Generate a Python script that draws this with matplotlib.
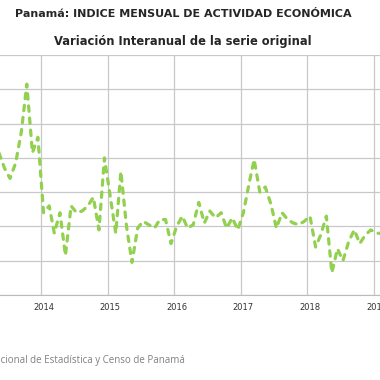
import pandas as pd
import matplotlib
matplotlib.use("Agg")
import matplotlib.pyplot as plt

# monthly year-on-year change (%), May 2013 .. Feb 2019
values = [8.3, 7.4, 6.8, 7.7, 9.5, 12.3, 8.3, 9.2,
          4.8, 5.2, 3.6, 4.8, 2.3, 5.2, 4.8, 4.9, 5.2, 5.7, 3.8, 8.0,
          5.8, 3.6, 7.2, 4.0, 1.9, 3.9, 4.3, 4.1, 3.9, 4.4, 4.4, 3.0,
          4.0, 4.6, 3.9, 4.1, 5.4, 4.2, 4.9, 4.5, 4.8, 3.9, 4.5, 3.8,
          4.8, 6.5, 7.9, 6.0, 6.3, 5.3, 3.9, 4.8, 4.4, 4.2, 4.1, 4.3,
          4.6, 2.8, 3.5, 4.6, 1.3, 2.7, 2.0, 3.1, 3.8, 3.0, 3.5, 3.8,
          3.6, 3.6]
years = ["2014", "2015", "2016", "2017", "2018", "2019"]

title = "Panamá: INDICE MENSUAL DE ACTIVIDAD ECONÓMICA"
subtitle = "Variación Interanual de la serie original"
source = "Fuente: Instituto Nacional de Estadística y Censo de Panamá"

# points sit in the middle of each month
dates = pd.date_range("2013-05-01", periods=len(values), freq="MS") + pd.Timedelta(days=14)
jan1 = pd.to_datetime([y + "-01-01" for y in years])
jan15 = jan1 + pd.Timedelta(days=14)

fig = plt.figure(figsize=(3.8, 3.8), dpi=100)
ax = fig.add_axes([0, 85 / 380, 1, 240 / 380])

ax.plot(dates, values, color="#92D050", lw=2.3, dashes=(1.7, 2.1),
        dash_capstyle="round", solid_capstyle="round")

# year spacing ~66.6 px, 2014 gridline at x=41
day_px = 66.6 / 365.25
ax.set_xlim(pd.Timestamp("2014-01-01") - pd.Timedelta(days=41 / day_px),
            pd.Timestamp("2014-01-01") + pd.Timedelta(days=339 / day_px))
ax.set_ylim(0, 14)
ax.set_yticks(range(0, 15, 2))

ax.set_xticks(jan1)
ax.set_xticklabels([])
ax.set_xticks(jan15, labels=years, minor=True)
ax.tick_params(axis="x", which="both", length=0)
ax.tick_params(axis="x", which="minor", labelsize=6, labelcolor="#333333", pad=6)
ax.tick_params(axis="y", left=False, labelleft=False)

ax.grid(True, which="major", color="#c8c8c8", lw=0.9)
ax.set_axisbelow(True)
for s in ["left", "right", "top"]:
    ax.spines[s].set_visible(False)
ax.spines["bottom"].set_color("#bbbbbb")

fig.text(183 / 380, 1 - 14 / 380, title, ha="center", va="center",
         fontsize=8.0, fontweight="bold", color="#262626", family="DejaVu Sans")
fig.text(183 / 380, 1 - 42 / 380, subtitle, ha="center", va="center",
         fontsize=8.3, fontweight="bold", color="#262626", family="DejaVu Sans")
fig.text(185 / 380, 1 - 360 / 380, source, ha="right", va="center",
         fontsize=7, color="#808080", family="Open Sans")

fig.savefig("out.png", dpi=100)
